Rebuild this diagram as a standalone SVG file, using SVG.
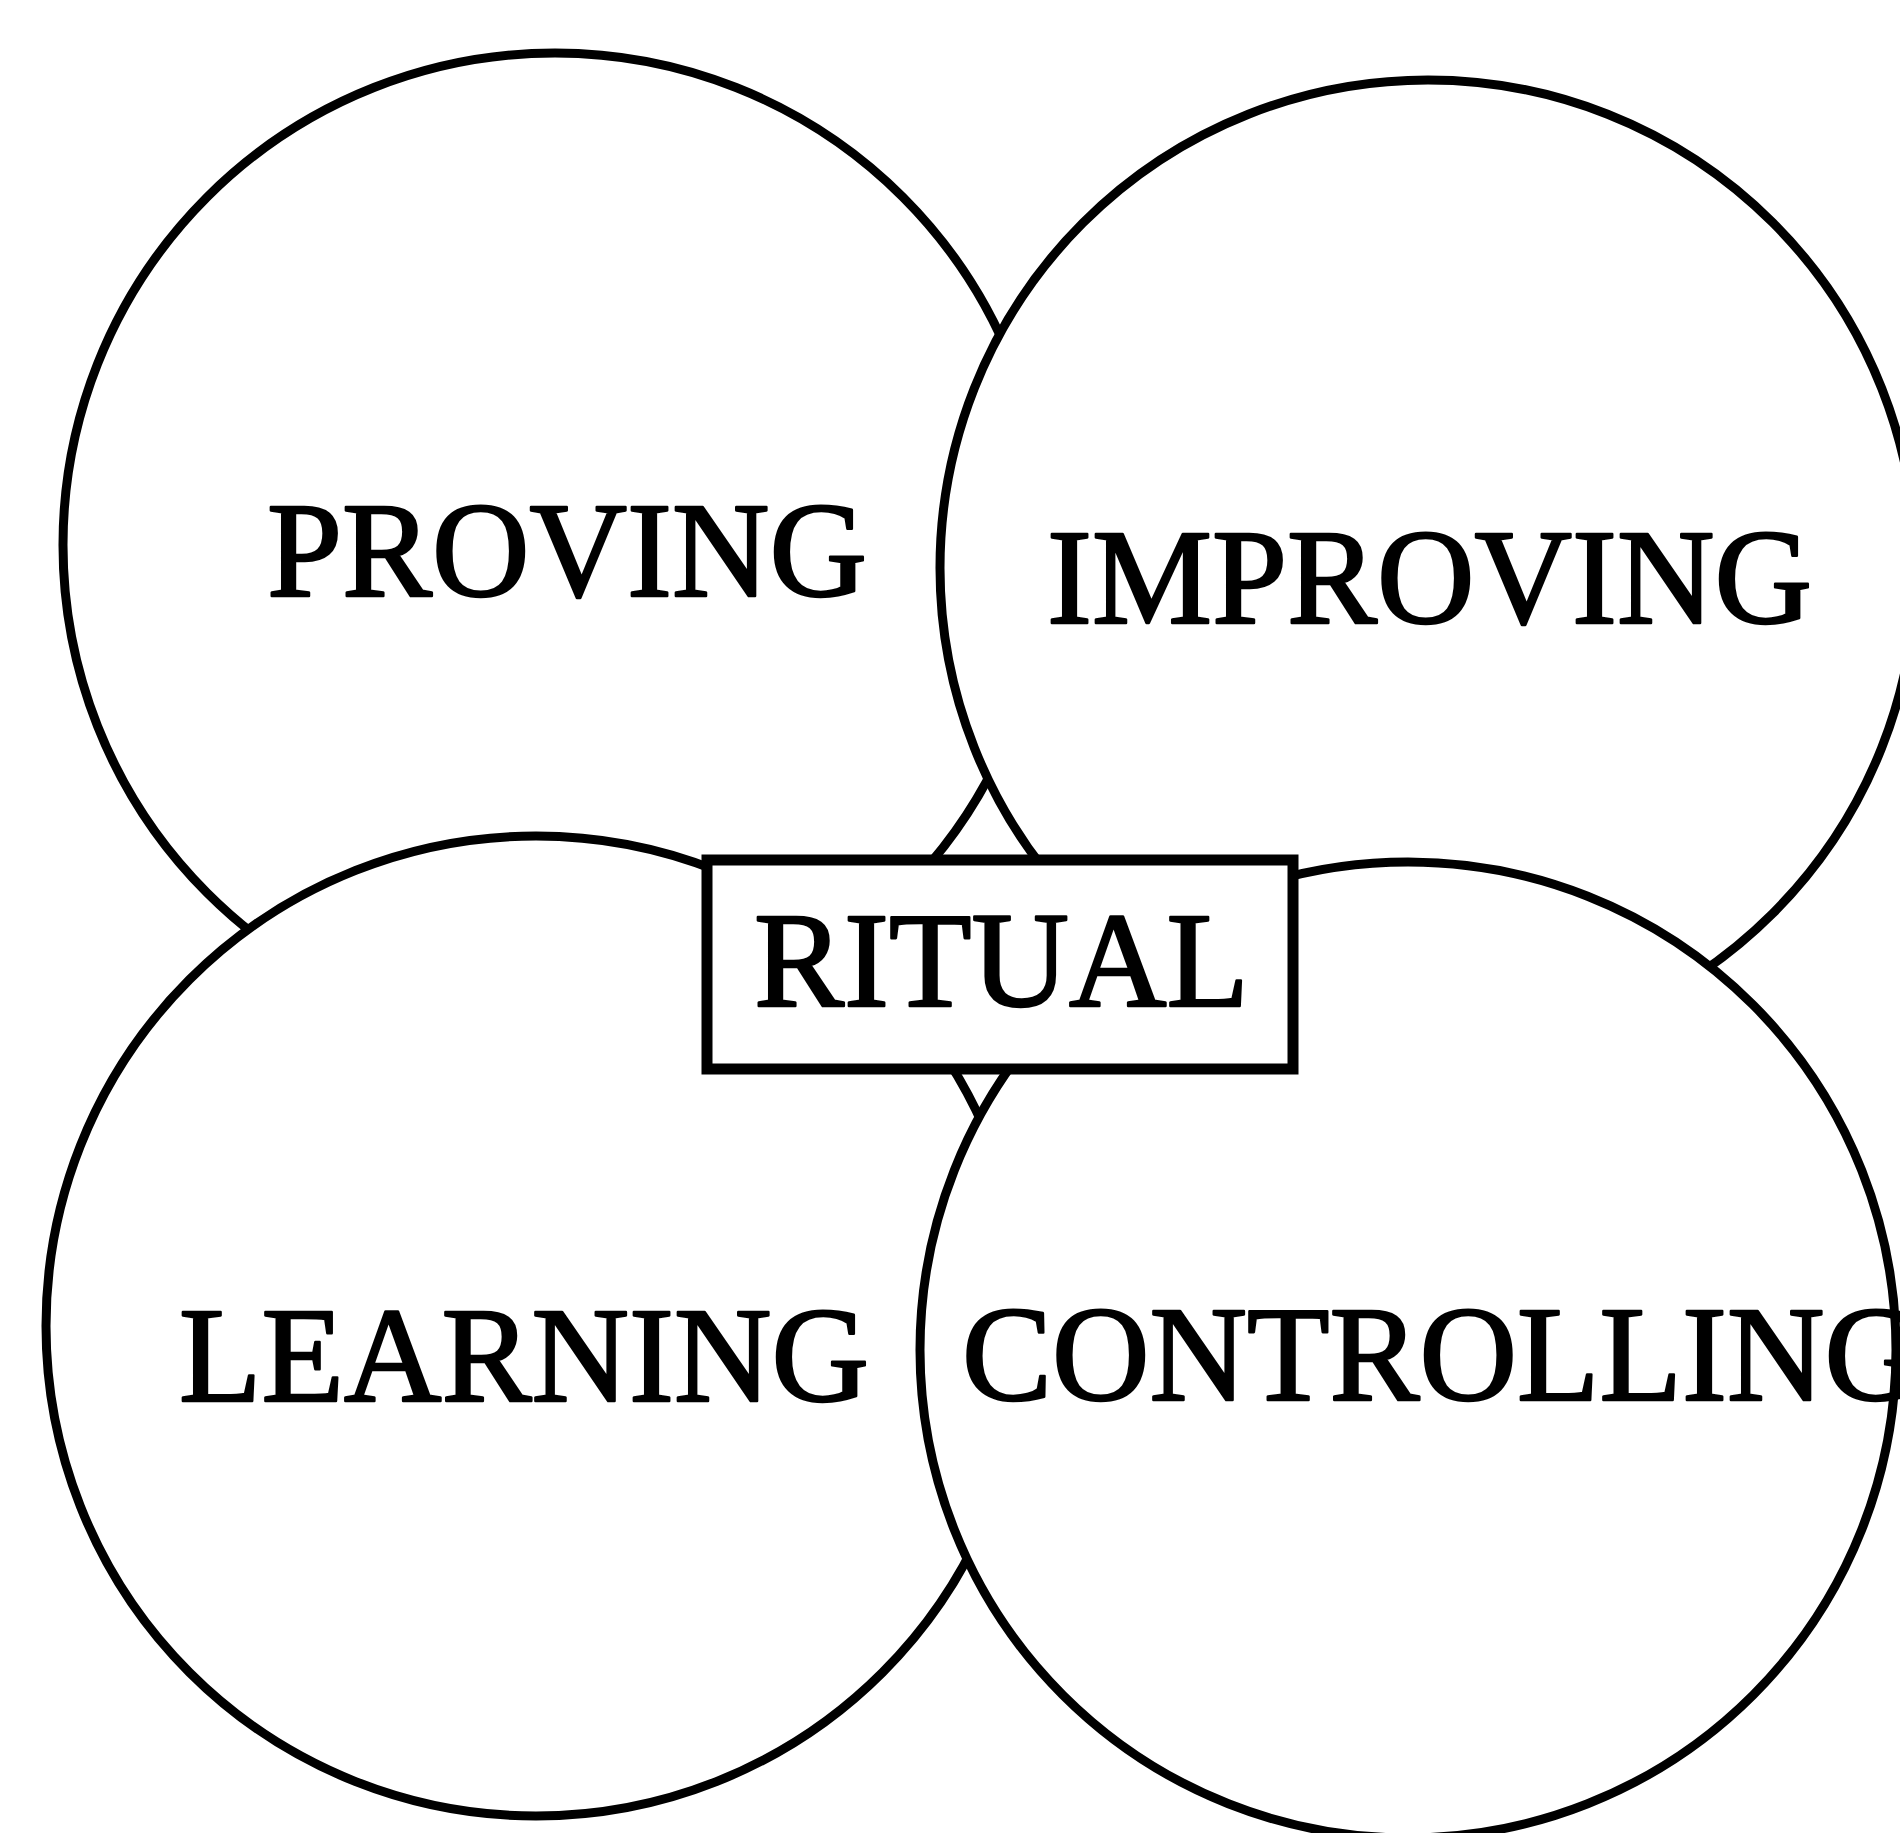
<svg xmlns="http://www.w3.org/2000/svg" width="1900" height="1833" viewBox="0 0 1900 1833">
  <style>
    .ring { fill: #ffffff; stroke: #000000; stroke-width: 9; }
    .box { fill: #ffffff; stroke: #000000; stroke-width: 11; }
    .label { font-family: "Liberation Serif", "Times New Roman", serif; font-size: 135px; fill: #000000; stroke: #000000; stroke-width: 2.5; stroke-linejoin: round; }
  </style>
  <rect x="0" y="0" width="1900" height="1833" fill="#ffffff"/>

  <!-- four overlapping circles, painted back to front -->
  <g id="proving">
    <circle class="ring" cx="555" cy="545" r="492"/>
  </g>
  <g id="improving">
    <circle class="ring" cx="1428" cy="568" r="488"/>
  </g>
  <g id="learning">
    <circle class="ring" cx="536" cy="1326" r="490"/>
  </g>
  <g id="controlling">
    <circle class="ring" cx="1408" cy="1350" r="488"/>
  </g>

  <!-- circle labels -->
  <g id="labels">
    <text class="label" x="267" y="596">PROVING</text>
    <text class="label" x="1047" y="623">IMPROVING</text>
    <text class="label" x="179" y="1401">LEARNING</text>
    <text class="label" x="962" y="1400">CONTROLLING</text>
  </g>

  <!-- central box where the four circles meet -->
  <g id="ritual">
    <rect class="box" x="707" y="860" width="586" height="209"/>
    <text class="label" x="754" y="1006">RITUAL</text>
  </g>

  <g id="connectors"></g>
</svg>
